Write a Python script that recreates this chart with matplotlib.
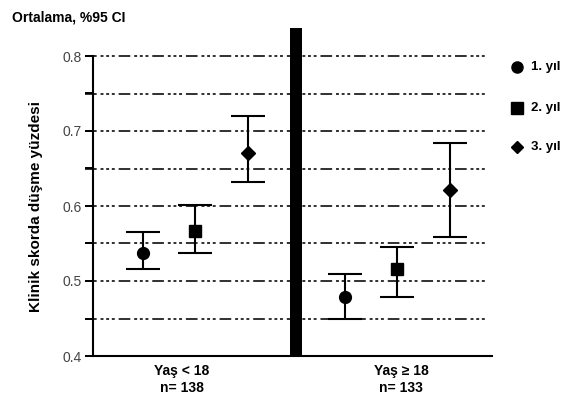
import numpy as np
import matplotlib
matplotlib.use("Agg")
import matplotlib.pyplot as plt
from matplotlib.lines import Line2D
from matplotlib.patches import Rectangle

plt.rcParams['font.family'] = ['Liberation Sans', 'DejaVu Sans']

# Veriler
gruplar = ["Yaş < 18\nn= 138", "Yaş ≥ 18\nn= 133"]
yillar = ["1. yıl", "2. yıl", "3. yıl"]
ortalama = [[0.537, 0.567, 0.670], [0.479, 0.516, 0.621]]
alt_ci = [[0.516, 0.538, 0.632], [0.449, 0.479, 0.559]]
ust_ci = [[0.566, 0.601, 0.720], [0.509, 0.545, 0.684]]

merkez = [2.05, 6.1]
kayma = [-1.05, 0.0, 1.05]
etiket_x = [1.78, 6.18]
isaretler = ['o', 's', 'D']
boyutlar = [8.5, 8.5, 7]

fig = plt.figure(figsize=(5.81, 4.0), dpi=100)
ax = fig.add_axes([0.160, 0.11, 0.687, 0.75])
ax.set_xlim(0, 8)
ax.set_ylim(0.4, 0.8)

# Kesikli yatay cizgiler
for yv in np.arange(0.45, 0.801, 0.05):
    ax.hlines(yv, -0.16, 7.9, colors='#303030', linewidth=1.4,
              linestyles=(0, (6, 2, 1.5, 1.4, 1.5, 1.4, 1.5, 2)),
              clip_on=False, zorder=1)

# Ortadaki kalin cubuk
ax.add_patch(Rectangle((3.95, 0.4), 0.24, 0.437, facecolor='black',
                       edgecolor='none', clip_on=False, zorder=3))

for g in range(2):
    for k in range(3):
        x = merkez[g] + kayma[k]
        m = ortalama[g][k]
        ax.errorbar(x, m, yerr=[[m - alt_ci[g][k]], [ust_ci[g][k] - m]],
                    fmt=isaretler[k], color='black', markersize=boyutlar[k],
                    elinewidth=1.5, capsize=12, capthick=1.5, zorder=4,
                    clip_on=False)

ax.spines['top'].set_visible(False)
ax.spines['right'].set_visible(False)
ax.spines['left'].set_linewidth(1.5)
ax.spines['bottom'].set_linewidth(1.5)

ax.set_yticks([0.4, 0.5, 0.6, 0.7, 0.8])
ax.set_yticks(np.arange(0.45, 0.8, 0.1), minor=True)
ax.tick_params(axis='y', which='both', length=6, width=1.4, direction='out',
               labelsize=10, labelcolor='#444444', pad=2)
ax.set_xticks(etiket_x)
ax.set_xticklabels(gruplar, fontsize=10, fontweight='bold')
ax.tick_params(axis='x', length=0, pad=6)

ax.set_ylabel("Klinik skorda düşme yüzdesi", fontsize=11, fontweight='bold',
              labelpad=14)

fig.text(0.021, 0.957, "Ortalama, %95 CI", fontsize=10, fontweight='bold',
         va='center', ha='left')

# Sag taraftaki aciklama
leg_y = [67, 108, 147]
for k in range(3):
    yf = 1 - leg_y[k] / 400
    fig.add_artist(Line2D([517 / 581], [yf], marker=isaretler[k], color='black',
                          linestyle='none', markersize=boyutlar[k] - 0.5))
    fig.text(531 / 581, yf, yillar[k], fontsize=9.5, fontweight='bold',
             va='center', ha='left')

fig.savefig("out.png", dpi=100)
